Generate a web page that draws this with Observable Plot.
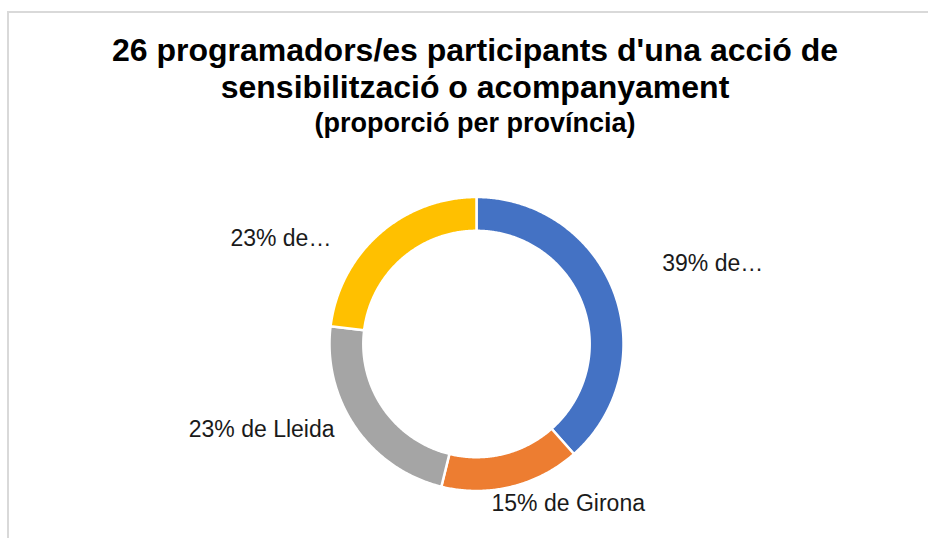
<!DOCTYPE html>
<html>
<head>
<meta charset="utf-8">
<script src="https://cdn.jsdelivr.net/npm/d3@7"></script>
<script src="https://cdn.jsdelivr.net/npm/@observablehq/plot@0.6"></script>
<style>
  html, body { margin: 0; padding: 0; background: #fff; overflow: hidden; }
  body { width: 928px; height: 538px; position: relative; font-family: "Liberation Sans", Arial, sans-serif; }
  #frame { position: absolute; left: 7px; top: 11px; width: 930px; height: 540px;
           border-top: 2px solid #d9d9d9; border-left: 2px solid #d9d9d9; box-sizing: border-box; }
  #title { position: absolute; left: 0; top: 32.4px; width: 950px; text-align: center; color: #000; font-weight: bold; }
  #title .t { font-size: 32px; line-height: 37px; }
  #title .s { font-size: 27px; line-height: 34.5px; }
  #chart { position: absolute; left: 9px; top: 150px; }
</style>
</head>
<body>
<div id="frame"></div>
<div id="title">
  <div class="t">26 programadors/es participants d'una acció de<br>sensibilització o acompanyament</div>
  <div class="s">(proporció per província)</div>
</div>
<div id="chart"></div>
<script>
// ---- data ----
const provinces = ["Barcelona", "Girona", "Lleida", "Tarragona"];
const participants = [10, 4, 6, 6];
const labelTexts = ["39% de…", "15% de Girona", "23% de Lleida", "23% de…"];
const sliceColors = ["#4472C4", "#ED7D31", "#A5A5A5", "#FFC000"];

// ---- layout ----
const W = 919, H = 388;
const CX = 467, CY = 193.5, R = 147;      // ring centre and outer radius (px)
const INNER = 0.77;                        // inner radius as fraction of outer
const LABEL_R = 1.15;                      // base label radius (outer radius units)
// Excel "best fit" label displacement (px) from the base position
const labelNudge = [[27.7, -20.6], [51.3, -5], [-2.8, -10], [-33, 21]];

const total = d3.sum(participants);
let acc = 0;
const slices = provinces.map((p, i) => {
  const a0 = acc / total * 2 * Math.PI;
  acc += participants[i];
  const a1 = acc / total * 2 * Math.PI;
  return {province: p, a0, a1, mid: (a0 + a1) / 2, i};
});

const ring = [];
for (const s of slices) {
  const n = Math.max(2, Math.ceil((s.a1 - s.a0) / (Math.PI / 360)));
  const pts = [];
  for (let k = 0; k <= n; k++) { const a = s.a0 + (s.a1 - s.a0) * k / n; pts.push([Math.sin(a), Math.cos(a)]); }
  for (let k = n; k >= 0; k--) { const a = s.a0 + (s.a1 - s.a0) * k / n; pts.push([INNER * Math.sin(a), INNER * Math.cos(a)]); }
  pts.push(pts[0]);
  pts.forEach(([x, y]) => ring.push({province: s.province, x, y}));
}

const labels = slices.map(s => {
  const ux = Math.sin(s.mid), uy = Math.cos(s.mid);
  const [ndx, ndy] = labelNudge[s.i];
  return {
    text: labelTexts[s.i],
    x: LABEL_R * ux + ndx / R,
    y: LABEL_R * uy - ndy / R,
    anchor: ux > 0.3 ? "start" : ux < -0.3 ? "end" : "middle"
  };
});

const textStyle = {fontSize: 23, fontFamily: "Liberation Sans, Arial, sans-serif", fill: "#1a1a1a", lineAnchor: "middle"};

const chart = Plot.plot({
  width: W, height: H, margin: 0,
  x: {domain: [-1, 1], range: [CX - R, CX + R], axis: null},
  y: {domain: [-1, 1], range: [CY + R, CY - R], axis: null},
  color: {domain: provinces, range: sliceColors},
  marks: [
    Plot.line(ring, {x: "x", y: "y", z: "province", fill: "province", stroke: "white", strokeWidth: 2.5, curve: "linear"}),
    ...["start", "middle", "end"].map(a =>
      Plot.text(labels.filter(d => d.anchor === a), {x: "x", y: "y", text: "text", textAnchor: a, ...textStyle}))
  ]
});
document.getElementById("chart").appendChild(chart);
</script>
</body>
</html>
